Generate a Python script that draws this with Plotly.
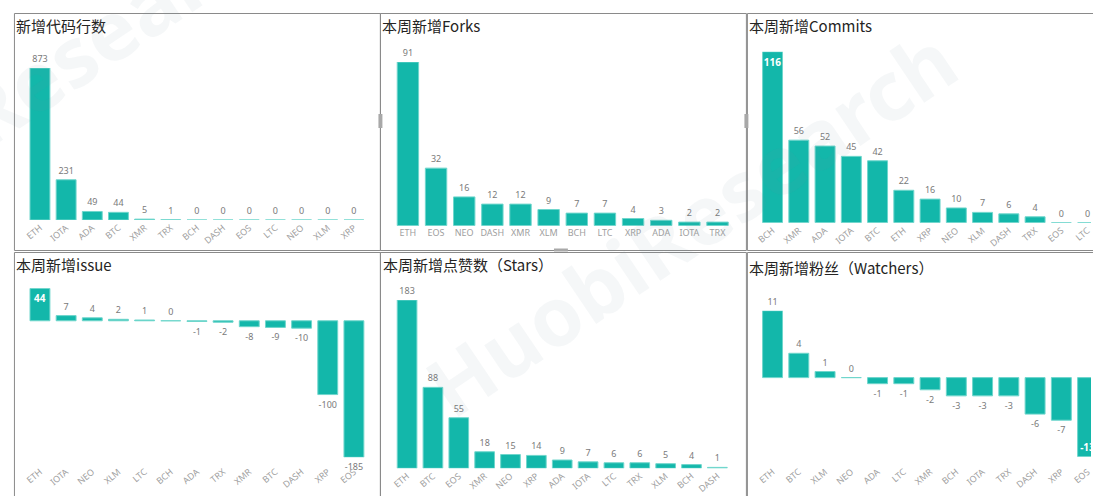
import plotly.graph_objects as go

W, H = 1093, 496

# ---------------- data ----------------
loc_cats = ["ETH", "IOTA", "ADA", "BTC", "XMR", "TRX", "BCH", "DASH", "EOS", "LTC", "NEO", "XLM", "XRP"]
loc_vals = [873, 231, 49, 44, 5, 1, 0, 0, 0, 0, 0, 0, 0]

forks_cats = ["ETH", "EOS", "NEO", "DASH", "XMR", "XLM", "BCH", "LTC", "XRP", "ADA", "IOTA", "TRX"]
forks_vals = [91, 32, 16, 12, 12, 9, 7, 7, 4, 3, 2, 2]

commits_cats = ["BCH", "XMR", "ADA", "IOTA", "BTC", "ETH", "XRP", "NEO", "XLM", "DASH", "TRX", "EOS", "LTC"]
commits_vals = [116, 56, 52, 45, 42, 22, 16, 10, 7, 6, 4, 0, 0]

issue_cats = ["ETH", "IOTA", "NEO", "XLM", "LTC", "BCH", "ADA", "TRX", "XMR", "BTC", "DASH", "XRP", "EOS"]
issue_vals = [44, 7, 4, 2, 1, 0, -1, -2, -8, -9, -10, -100, -185]

stars_cats = ["ETH", "BTC", "EOS", "XMR", "NEO", "XRP", "ADA", "IOTA", "LTC", "TRX", "XLM", "BCH", "DASH"]
stars_vals = [183, 88, 55, 18, 15, 14, 9, 7, 6, 6, 5, 4, 1]

watch_cats = ["ETH", "BTC", "XLM", "NEO", "ADA", "LTC", "XMR", "BCH", "IOTA", "TRX", "DASH", "XRP", "EOS"]
watch_vals = [11, 4, 1, 0, -1, -1, -2, -3, -3, -3, -6, -7, -13]

titles = ["新增代码行数", "本周新增Forks", "本周新增Commits",
          "本周新增issue", "本周新增点赞数（Stars）", "本周新增粉丝（Watchers）"]

# ---------------- style ----------------
BAR = "#13B7AA"
BAR_EDGE = "#6FD6CC"
LBL = "#7a7a7a"
TICK = "#a0a0a0"
FONT = "Noto Sans CJK SC, Noto Sans, sans-serif"


def fx(px):
    return px / W


def fy(py):
    return 1 - py / H


# panel geometry: (cats, vals, x-domain px, y-domain px (top, bottom), x-range, tickangle, inside-label index)
panels = [
    (loc_cats, loc_vals, (23, 365), (68, 220), None, -40, []),
    (forks_cats, forks_vals, (392, 731.6), (62, 225.7), None, 0, []),
    (commits_cats, commits_vals, (759.6, 1093), (51.7, 222.7), [-0.5, 12.13], -40, [0]),
    (issue_cats, issue_vals, (23, 365), (288.3, 457.3), None, -40, [0]),
    (stars_cats, stars_vals, (392.3, 730.3), (300, 468.3), None, -40, []),
    (watch_cats, watch_vals, (759.6, 1093), (310.7, 456.7), [-0.5, 12.13], -40, [12]),
]

fig = go.Figure()
layout = dict(
    width=W, height=H,
    margin=dict(l=0, r=0, t=0, b=0),
    paper_bgcolor="white", plot_bgcolor="white",
    showlegend=False,
    font=dict(family=FONT, size=9, color=LBL),
    bargap=0.24,
)

for i, (cats, vals, xd, yd, xr, ang, inside) in enumerate(panels, start=1):
    sfx = "" if i == 1 else str(i)
    pos = ["inside" if j in inside else "outside" for j in range(len(vals))]
    fig.add_trace(go.Bar(
        x=cats, y=vals,
        xaxis="x" + sfx, yaxis="y" + sfx,
        marker=dict(color=BAR, line=dict(color=BAR_EDGE, width=1)),
        text=[str(v) for v in vals],
        textposition=pos,
        textangle=0,
        insidetextanchor="end",
        insidetextfont=dict(size=10, color="white", family="Noto Sans, sans-serif", weight="bold"),
        outsidetextfont=dict(size=9, color=LBL, family="Noto Sans, sans-serif"),
        cliponaxis=False,
        constraintext="none",
        hoverinfo="skip",
    ))
    ymin = min(0, min(vals))
    ymax = max(vals)
    xa = dict(
        domain=[fx(xd[0]), fx(xd[1])],
        anchor="y" + sfx,
        type="category",
        showgrid=False, zeroline=False, showline=False,
        ticks="", tickangle=ang,
        tickfont=dict(size=9, color=TICK, family="Noto Sans, sans-serif"),
        fixedrange=True,
    )
    if xr is not None:
        xa["range"] = xr
    ya = dict(
        domain=[fy(yd[1]), fy(yd[0])],
        anchor="x" + sfx,
        range=[ymin, ymax],
        showgrid=False, zeroline=False, showline=False,
        showticklabels=False, ticks="",
        fixedrange=True,
    )
    layout["xaxis" + sfx] = xa
    layout["yaxis" + sfx] = ya

# bottom row: category labels below the negative bars
layout["xaxis4"]["anchor"] = "free"
layout["xaxis4"]["position"] = fy(464)
layout["xaxis6"]["anchor"] = "free"
layout["xaxis6"]["position"] = fy(464)

# ---------------- panel frames ----------------
shapes = []
frames = [
    (10.5, 13.5, 378.5, 250.5),
    (378.5, 13.5, 746.5, 250.5),
    (747.5, 13.5, 1100, 250.5),
    (10.5, 252.5, 378.5, 510),
    (378.5, 252.5, 746.5, 510),
    (747.5, 252.5, 1100, 510),
]
for (x0, y0, x1, y1) in frames:
    shapes.append(dict(type="rect", xref="paper", yref="paper",
                       x0=fx(x0), x1=fx(x1), y0=fy(y1), y1=fy(y0),
                       line=dict(color="#8a8a8a", width=1), layer="below"))
# selection handles on the Forks visual
handles = [
    (376.5, 114, 380.5, 128),
    (744.5, 114, 748.5, 128),
    (553, 248.5, 567, 251.5),
]
for (x0, y0, x1, y1) in handles:
    shapes.append(dict(type="rect", xref="paper", yref="paper",
                       x0=fx(x0), x1=fx(x1), y0=fy(y1), y1=fy(y0),
                       line=dict(width=0), fillcolor="#a8a8a8"))

# ---------------- titles ----------------
title_pos = [(10, 26), (378, 26), (747, 26), (10, 264), (379, 264), (747, 267)]
annotations = []
for t, (px, py) in zip(titles, title_pos):
    annotations.append(dict(
        text=t, xref="paper", yref="paper", x=fx(px), y=fy(py),
        xanchor="left", yanchor="middle", showarrow=False,
        font=dict(family=FONT, size=15, color="#252423"),
    ))

# faint watermark
annotations.append(dict(
    text="HuobiResearch", xref="paper", yref="paper", x=fx(690), y=fy(222),
    xanchor="center", yanchor="middle", showarrow=False, textangle=-34,
    font=dict(family="Noto Sans, sans-serif", size=82, color="rgba(120,140,160,0.07)", weight="bold"),
))
annotations.append(dict(
    text="Research", xref="paper", yref="paper", x=fx(120), y=fy(20),
    xanchor="center", yanchor="middle", showarrow=False, textangle=-34,
    font=dict(family="Noto Sans, sans-serif", size=82, color="rgba(120,140,160,0.07)", weight="bold"),
))

layout["shapes"] = shapes
layout["annotations"] = annotations
fig.update_layout(**layout)

fig.write_html(
    "out.html",
    config={"displayModeBar": False, "responsive": False},
    default_width="1093px", default_height="496px",
    post_script="document.body.style.margin='0';document.body.style.overflow='hidden';"
                "document.documentElement.style.overflow='hidden';",
)
